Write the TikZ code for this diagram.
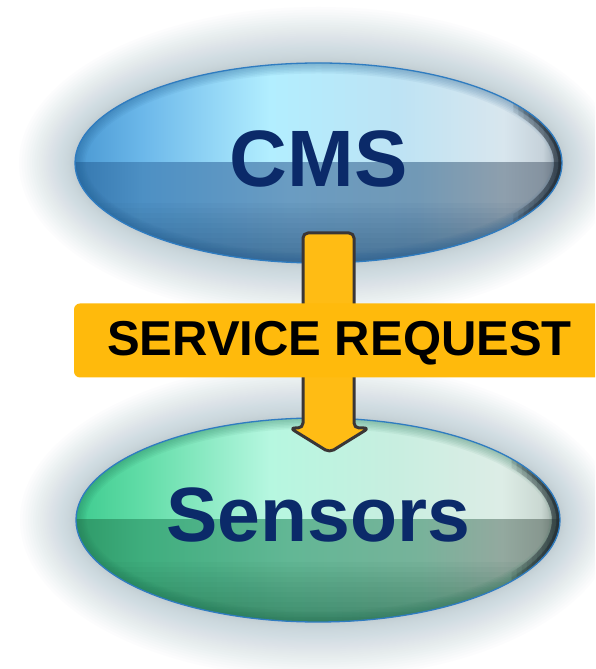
\documentclass[tikz,border=0pt]{standalone}
\usepackage{fontspec}
\setmainfont{Liberation Sans}
\usetikzlibrary{shapes.geometric}

% ---- colours ----
\definecolor{halo}{HTML}{B8CAD4}
\definecolor{navy}{HTML}{0B2A69}
\definecolor{bannergold}{HTML}{FFBA0C}
\definecolor{arrowgold}{HTML}{FFBC14}
\definecolor{arrowedge}{HTML}{3A3636}
\definecolor{podline}{HTML}{2F7CC0}
\definecolor{edgegray}{HTML}{262E36}

% blue pod
\definecolor{cmsA}{HTML}{4A98D2}
\definecolor{cmsB}{HTML}{6CB8EA}
\definecolor{cmsC}{HTML}{B2EEFF}
\definecolor{cmsD}{HTML}{BDE3F4}
\definecolor{cmsE}{HTML}{D8E6EE}
\definecolor{cmsF}{HTML}{C6D2DA}
\definecolor{cmsG}{HTML}{8A97A3}
\definecolor{cmsa}{HTML}{3578B0}
\definecolor{cmsb}{HTML}{4D90C4}
\definecolor{cmsc}{HTML}{6A9CC2}
\definecolor{cmsd}{HTML}{7199B6}
\definecolor{cmse}{HTML}{8E9FAD}
\definecolor{cmsf}{HTML}{8593A0}
\definecolor{cmsg}{HTML}{66727E}
\definecolor{cmsdeep}{HTML}{1E4A74}
\definecolor{cmsrim}{HTML}{1E5A8C}

% green pod
\definecolor{senA}{HTML}{3FCB8F}
\definecolor{senB}{HTML}{62DDA8}
\definecolor{senC}{HTML}{B6F7E0}
\definecolor{senD}{HTML}{C8EEE0}
\definecolor{senE}{HTML}{DDEDE6}
\definecolor{senF}{HTML}{CAD8D2}
\definecolor{senG}{HTML}{8E9C96}
\definecolor{sena}{HTML}{2E9A68}
\definecolor{senb}{HTML}{3FAE7E}
\definecolor{senc}{HTML}{62B795}
\definecolor{send}{HTML}{76B39A}
\definecolor{sene}{HTML}{93A99F}
\definecolor{senf}{HTML}{889890}
\definecolor{seng}{HTML}{66746E}
\definecolor{sendeep}{HTML}{1A5E42}
\definecolor{senrim}{HTML}{1E6E52}

% horizontal colour runs for the upper and lower halves of each pod
\pgfdeclarehorizontalshading{cmsTop}{100bp}{color(0bp)=(cmsA); color(25bp)=(cmsA); color(32bp)=(cmsB);
  color(45bp)=(cmsC); color(58bp)=(cmsD); color(69bp)=(cmsE); color(73bp)=(cmsF); color(75bp)=(cmsG); color(100bp)=(cmsG)}
\pgfdeclarehorizontalshading{cmsBot}{100bp}{color(0bp)=(cmsa); color(25bp)=(cmsa); color(32bp)=(cmsb);
  color(47bp)=(cmsc); color(60bp)=(cmsd); color(69bp)=(cmse); color(73bp)=(cmsf); color(75bp)=(cmsg); color(100bp)=(cmsg)}
\pgfdeclarehorizontalshading{senTop}{100bp}{color(0bp)=(senA); color(25bp)=(senA); color(32bp)=(senB);
  color(45bp)=(senC); color(58bp)=(senD); color(69bp)=(senE); color(73bp)=(senF); color(75bp)=(senG); color(100bp)=(senG)}
\pgfdeclarehorizontalshading{senBot}{100bp}{color(0bp)=(sena); color(25bp)=(sena); color(32bp)=(senb);
  color(47bp)=(senc); color(60bp)=(send); color(69bp)=(sene); color(73bp)=(senf); color(75bp)=(seng); color(100bp)=(seng)}

\tikzset{
  podtext/.style={font=\bfseries\fontsize{#1}{#1}\selectfont, text=navy, inner sep=0pt, anchor=base},
  bannerbox/.style={fill=bannergold, rounded corners=6pt, minimum width=531pt, minimum height=74pt, inner sep=0pt},
  bannertext/.style={font=\bfseries\fontsize{49}{49}\selectfont, text=black, inner sep=0pt, anchor=base},
  blockarrow/.style={fill=arrowgold, draw=arrowedge, line width=3pt, rounded corners=5pt, line join=round},
  podedge/.style={draw=podline, line width=1.3pt}
}

% glossy pod: #1 name, #2 cx, #3 cy, #4 rx, #5 ry, #6 colour prefix
\newcommand{\glosspod}[6]{%
  % soft halo, densest next to the rim
  \foreach \k in {1,...,40} {
    \pgfmathsetmacro\haloD{56*(\k/40)^2}
    \fill[halo, fill opacity=0.04] (#2,#3) ellipse [x radius={#4+\haloD}, y radius={#5+\haloD}];
  }
  \node[ellipse, minimum width={2*#4}, minimum height={2*#5}, inner sep=0pt] (#1) at (#2,#3) {};
  \begin{scope}
    \clip (#1.center) ellipse [x radius=#4, y radius=#5];
    \shade[shading=#6Top] ({#2-#4},#3) rectangle ({#2+#4},{#3+#5});
    \shade[shading=#6Bot] ({#2-#4},{#3-#5}) rectangle ({#2+#4},#3);
    % darker band towards the lower edge
    \foreach \k in {1,...,12}
      \fill[#6deep, fill opacity=0.045] ({#2-#4},{#3-#5}) rectangle ({#2+#4},{#3-#5+\k*5});
    % soft rim all round
    \foreach \w in {3,6,...,21}
      \draw[#6rim, draw opacity=0.06, line width=\w] (#1.center) ellipse [x radius=#4, y radius=#5];
    % dark curved rim on the right-hand end
    \foreach \j in {0,...,9} {
      \begin{scope}
        \clip ({#2+(0.8+0.021*\j)*#4},{#3-#5}) rectangle ({#2+#4},{#3+#5});
        \draw[edgegray, draw opacity=0.1, line width=16] (#1.center) ellipse [x radius=#4, y radius=#5];
        \draw[edgegray, draw opacity=0.1, line width=7] (#1.center) ellipse [x radius=#4, y radius=#5];
      \end{scope}
    }
  \end{scope}
  \draw[podedge] (#1.center) ellipse [x radius=#4, y radius=#5];
}

\begin{document}
\begin{tikzpicture}[x=1pt, y=1pt]
  \useasboundingbox (0,0) rectangle (595,669);
  \clip (0,0) rectangle (595,669);
  \fill[white] (0,0) rectangle (595,669);

  % the two pods with their soft halos
  \glosspod{cms}{318.5}{506}{243.5}{100}{cms}
  \glosspod{sensors}{318}{149}{242}{102}{sen}

  % downward block arrow from CMS to Sensors
  \coordinate (shaftTop) at (328.5,436);
  \coordinate (tip) at (329.5,216.5);
  \draw[blockarrow] (303,436) -- (303,241) -- (290,241) -- (tip) -- (369,241)
    -- (354,241) -- (354,436) -- cycle;

  % banner across the arrow
  \node[bannerbox] (banner) at (339.5,328.5) {};
  \node[bannertext] (request) at (339.5,313) {SERVICE REQUEST};

  % pod labels
  \node[podtext=80] (cmslabel) at (318.5,482) {CMS};
  \node[podtext=77] (senslabel) at (318.5,127.5) {Sensors};
\end{tikzpicture}
\end{document}
